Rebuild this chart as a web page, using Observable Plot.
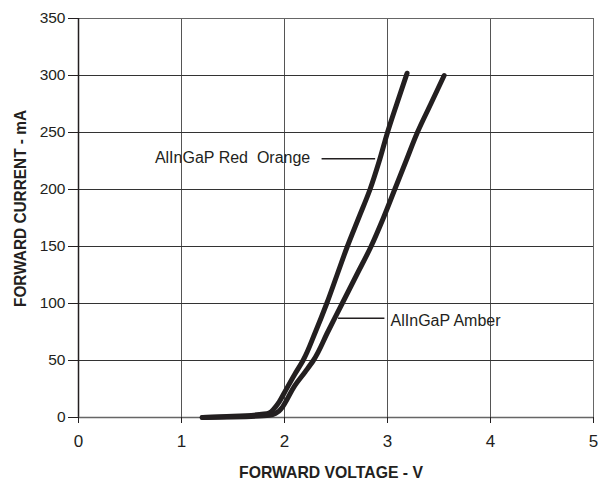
<!DOCTYPE html>
<html><head><meta charset="utf-8">
<script src="https://cdn.jsdelivr.net/npm/d3@7"></script>
<script src="https://cdn.jsdelivr.net/npm/@observablehq/plot@0.6"></script>
<style>
body{margin:0;background:#fff;}
svg{font-family:"Liberation Sans",Arial,sans-serif;}
</style></head>
<body><div id="chart"></div>
<script>
const xTicks = [0,1,2,3,4,5];
const yTicks = [0,50,100,150,200,250,300,350];
const redOrangeV = [1.2,1.5,1.8,1.85,1.9,1.95,2.0,2.1,2.18,2.3,2.41,2.51,2.61,2.72,2.83,2.92,3.0,3.09,3.19];
const redOrangeI = [0,1,3,4,8,14,22,38,50,75,100,125,150,175,200,225,250,275,302];
const amberV = [1.2,1.5,1.85,1.92,1.97,2.0,2.1,2.2,2.28,2.42,2.56,2.70,2.84,2.96,3.07,3.18,3.29,3.42,3.55];
const amberI = [0,0.5,2,4,8,12,28,40,50,75,100,125,150,175,200,225,250,275,300];
const redOrangeLabel = {name:"AlInGaP Red  Orange", tx:2.25, ty:228, x1:2.36, x2:2.88, ly:227};
const amberLabel = {name:"AlInGaP Amber", tx:3.03, ty:85, x1:2.52, x2:2.97, ly:87};
const ink = "#231f20";
const ro = redOrangeV.map((v,i)=>({v, c:redOrangeI[i]}));
const am = amberV.map((v,i)=>({v, c:amberI[i]}));
const leaders = [redOrangeLabel, amberLabel].map(d=>({x1:d.x1, x2:d.x2, y:d.ly}));

const chart = Plot.plot({
  width:599, height:485,
  marginLeft:78, marginRight:6, marginTop:18, marginBottom:68,
  style:{fontSize:"15px", color:ink, fontFamily:"'Liberation Sans',Arial,sans-serif"},
  x:{domain:[0,5], label:null},
  y:{domain:[0,350], label:null},
  marks:[
    Plot.gridX(xTicks,{stroke:"#555", strokeOpacity:1, strokeWidth:1}),
    Plot.gridY(yTicks,{stroke:"#333", strokeOpacity:1, strokeWidth:1}),
    Plot.frame({stroke:"#666"}),
    Plot.ruleX([0],{stroke:ink, strokeWidth:1.5}),
    Plot.ruleY([0],{stroke:"#666", strokeWidth:1.5}),
    Plot.axisX({ticks:xTicks, tickFormat:"d", tickSize:6, tickPadding:11, fontSize:17, stroke:ink}),
    Plot.axisY({ticks:yTicks, tickFormat:"d", tickSize:10, tickPadding:3, fontSize:15.5, stroke:ink}),
    Plot.line(ro,{x:"v", y:"c", stroke:ink, strokeWidth:5, strokeLinejoin:"round", curve:"monotone-y"}),
    Plot.line(am,{x:"v", y:"c", stroke:ink, strokeWidth:5, strokeLinejoin:"round", curve:"monotone-y"}),
    Plot.link(leaders,{x1:"x1", x2:"x2", y1:"y", y2:"y", stroke:ink, strokeWidth:1.5}),
    Plot.text([redOrangeLabel],{x:"tx", y:"ty", text:"name", textAnchor:"end", fontSize:16, fill:ink}),
    Plot.text([amberLabel],{x:"tx", y:"ty", text:"name", textAnchor:"start", fontSize:16, fill:ink}),
  ]
});
const svg = d3.select(chart);
svg.append("text").attr("x",331).attr("y",478).attr("text-anchor","middle")
  .attr("font-weight","bold").attr("font-size",17).attr("fill",ink)
  .attr("textLength",184).attr("lengthAdjust","spacingAndGlyphs").text("FORWARD VOLTAGE - V");
svg.append("text").attr("transform","translate(26,208.5) rotate(-90)").attr("text-anchor","middle")
  .attr("font-weight","bold").attr("font-size",17).attr("fill",ink)
  .attr("textLength",197).attr("lengthAdjust","spacingAndGlyphs").text("FORWARD CURRENT - mA");
document.getElementById("chart").appendChild(chart);
</script></body></html>
